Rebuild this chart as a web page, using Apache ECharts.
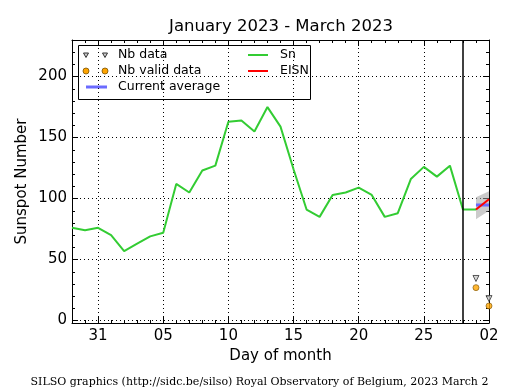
<!DOCTYPE html>
<html><head><meta charset="utf-8">
<script src="https://cdn.jsdelivr.net/npm/echarts@6/dist/echarts.min.js"></script>
<style>html,body{margin:0;padding:0;background:#fff}#c{width:515px;height:390px}</style>
</head><body><div id="c"></div>
<script>
// ---- data ----
const titleText = 'January 2023 - March 2023';
const footerText = 'SILSO graphics (http://sidc.be/silso) Royal Observatory of Belgium, 2023 March 2';
// x = day index, 0 = Jan 29
const xTickPos = [2, 7, 12, 17, 22, 27, 32];
const xTickLabels = ['31', '05', '10', '15', '20', '25', '02'];
const yTickVals = [0, 50, 100, 150, 200];
const snValues = [76, 74, 76, 70, 57, 63, 69, 72, 112, 105, 123, 127, 163, 164, 155, 175, 159, 124,
                  91, 85, 103, 105, 109, 103, 85, 88, 116, 126, 118, 127, 91, 91];
const predDays = [31, 32];
const eisnValues = [91, 99.5];
const avgValues = [94.8, 94.8];
const bandLow = [83, 90];
const bandHigh = [101, 106];
const nbDataValues = [34.5, 18];
const nbValidValues = [27, 12];
const lastObsDay = 30;

// ---- helpers ----
const FONT = 'DejaVu Sans';
const xMin = 0, xMax = 32, yMin = -2, yMax = 230;
const xMinor = []; for (let i = xMin; i <= xMax; i++) xMinor.push(i);
const yMinor = []; for (let v = 0; v <= 220; v += 10) yMinor.push(v);

const snData = snValues.map((v, i) => [i, v]);
const pair = (arr) => predDays.map((d, i) => [d, arr[i]]);
const bandData = predDays.map((d, i) => [d, bandLow[i], bandHigh[i]]);

function xAx(pos, major, showLine, label) {
  return {
    type: 'value', min: xMin, max: xMax, position: pos, gridIndex: 0,
    axisLine: { show: showLine, onZero: false, lineStyle: { color: '#000', width: 1 } },
    axisTick: { show: true, inside: true, length: major ? 6 : 3, customValues: major ? xTickPos : xMinor, lineStyle: { color: '#000', width: 1 } },
    axisLabel: label ? { show: true, customValues: xTickPos, formatter: v => xTickLabels[xTickPos.indexOf(v)], color: '#000', fontSize: 15, fontFamily: FONT, margin: 6 } : { show: false },
    splitLine: { show: !!label, lineStyle: { color: '#000', type: [1, 3], width: 1 } },
    name: label ? 'Day of month' : '', nameLocation: 'middle', nameGap: 26, nameMoveOverlap: false,
    nameTextStyle: { color: '#000', fontSize: 15, fontFamily: FONT }
  };
}
function yAx(pos, major, showLine, label) {
  return {
    type: 'value', min: yMin, max: yMax, position: pos, gridIndex: 0,
    axisLine: { show: showLine, onZero: false, lineStyle: { color: '#000', width: 1 } },
    axisTick: { show: true, inside: true, length: major ? 6 : 3, customValues: major ? yTickVals : yMinor, lineStyle: { color: '#000', width: 1 } },
    axisLabel: label ? { show: true, customValues: yTickVals, color: '#000', fontSize: 15, fontFamily: FONT, margin: 5 } : { show: false },
    splitLine: { show: !!label, lineStyle: { color: '#000', type: [1, 3], width: 1 } },
    name: label ? 'Sunspot Number' : '', nameLocation: 'middle', nameGap: 42, nameMoveOverlap: false,
    nameTextStyle: { color: '#000', fontSize: 15, fontFamily: FONT }
  };
}

const chart = echarts.init(document.getElementById('c'), null, { renderer: 'canvas' });

const legendFont = '12.5px "DejaVu Sans"';
const legend = {
  type: 'group', z: 100, children: [
    { type: 'rect', shape: { x: 78.5, y: 45.5, width: 232, height: 54 }, style: { fill: '#fff', stroke: '#000', lineWidth: 1 } },
    { type: 'polygon', shape: { points: [[83.5, 53], [88.5, 53], [86, 57.5]] }, style: { fill: '#ccc', stroke: '#333', lineWidth: 1 } },
    { type: 'polygon', shape: { points: [[102.5, 53], [107.5, 53], [105, 57.5]] }, style: { fill: '#ccc', stroke: '#333', lineWidth: 1 } },
    { type: 'text', x: 118, y: 55, style: { text: 'Nb data', font: legendFont, fill: '#000', textVerticalAlign: 'middle' } },
    { type: 'circle', shape: { cx: 86, cy: 71, r: 3 }, style: { fill: '#ffa500', stroke: '#7a5000', lineWidth: 0.8 } },
    { type: 'circle', shape: { cx: 105, cy: 71, r: 3 }, style: { fill: '#ffa500', stroke: '#7a5000', lineWidth: 0.8 } },
    { type: 'text', x: 118, y: 71, style: { text: 'Nb valid data', font: legendFont, fill: '#000', textVerticalAlign: 'middle' } },
    { type: 'line', shape: { x1: 86, y1: 87, x2: 107, y2: 87 }, style: { stroke: '#6b6bff', lineWidth: 3 } },
    { type: 'text', x: 118, y: 87, style: { text: 'Current average', font: legendFont, fill: '#000', textVerticalAlign: 'middle' } },
    { type: 'line', shape: { x1: 248, y1: 55, x2: 268, y2: 55 }, style: { stroke: '#33cc33', lineWidth: 2 } },
    { type: 'text', x: 280, y: 55, style: { text: 'Sn', font: legendFont, fill: '#000', textVerticalAlign: 'middle' } },
    { type: 'line', shape: { x1: 248, y1: 71, x2: 268, y2: 71 }, style: { stroke: '#ff0000', lineWidth: 2 } },
    { type: 'text', x: 280, y: 71, style: { text: 'EISN', font: legendFont, fill: '#000', textVerticalAlign: 'middle' } }
  ]
};

chart.setOption({
  animation: false,
  backgroundColor: '#fff',
  title: { text: titleText, left: 281, top: 18, padding: 0, textAlign: 'center',
           textStyle: { color: '#000', fontSize: 16.5, fontWeight: 'normal', fontFamily: FONT } },
  grid: { left: 72, top: 40, width: 417, height: 283, containLabel: false, outerBoundsMode: 'none' },
  xAxis: [xAx('bottom', true, true, true), xAx('bottom', false, false, false), xAx('top', true, true, false), xAx('top', false, false, false)],
  yAxis: [yAx('left', true, true, true), yAx('left', false, false, false), yAx('right', true, true, false), yAx('right', false, false, false)],
  graphic: [
    legend,
    { type: 'text', x: 259.5, y: 382, style: { text: footerText, font: '11px "DejaVu Serif"', fill: '#000', textAlign: 'center', textVerticalAlign: 'middle' } }
  ],
  series: [
    { name: 'band', type: 'custom', data: bandData, clip: true, silent: true, z: 1,
      encode: { x: 0, y: [1, 2] },
      renderItem: function (params, api) {
        if (params.dataIndex !== 0) return null;
        const pts = [];
        bandData.forEach(r => pts.push(api.coord([r[0], r[2]])));
        bandData.slice().reverse().forEach(r => pts.push(api.coord([r[0], r[1]])));
        return { type: 'polygon', shape: { points: pts }, style: { fill: 'rgba(160,160,160,0.55)' } };
      } },
    { name: 'Sn', type: 'line', data: snData, symbol: 'none', lineStyle: { color: '#33cc33', width: 2 }, z: 3,
      markLine: { silent: true, symbol: 'none', label: { show: false }, lineStyle: { color: '#000', width: 1.5, type: 'solid' },
                  data: [{ xAxis: lastObsDay }] } },
    { name: 'Current average', type: 'line', data: pair(avgValues), symbol: 'none', lineStyle: { color: '#6b6bff', width: 3 }, z: 4 },
    { name: 'EISN', type: 'line', data: pair(eisnValues), symbol: 'none', lineStyle: { color: '#ff0000', width: 2 }, z: 5 },
    { name: 'Nb data', type: 'scatter', data: pair(nbDataValues), symbol: 'triangle', symbolRotate: 180, symbolSize: 6,
      itemStyle: { color: '#ccc', borderColor: '#333', borderWidth: 1 }, z: 6 },
    { name: 'Nb valid data', type: 'scatter', data: pair(nbValidValues), symbol: 'circle', symbolSize: 6,
      itemStyle: { color: '#ffa500', borderColor: '#7a5000', borderWidth: 0.8 }, z: 6 }
  ]
});
</script>
</body></html>
